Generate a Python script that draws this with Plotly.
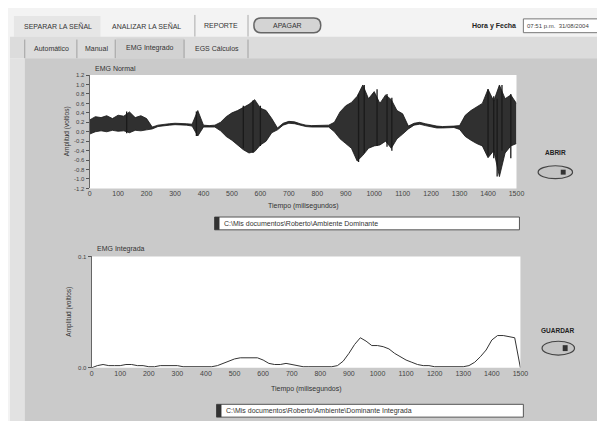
import plotly.graph_objects as go

# ---------------- data ----------------
t_ms = [0, 20, 40, 60, 80, 100, 120, 140, 160, 180, 200, 220, 240, 260, 280, 300,
        320, 340, 360, 380, 400, 420, 440, 460, 480, 500, 520, 540, 560, 580, 600,
        620, 640, 660, 680, 700, 720, 740, 760, 780, 800, 820, 840, 860, 880, 900,
        920, 940, 960, 980, 1000, 1020, 1040, 1060, 1080, 1100, 1120, 1140, 1160,
        1180, 1200, 1220, 1240, 1260, 1280, 1300, 1320, 1340, 1360, 1380, 1400,
        1420, 1440, 1460, 1480, 1500]

emg_upper = [0.25, 0.32, 0.30, 0.34, 0.28, 0.35, 0.33, 0.42, 0.30, 0.34, 0.28, 0.10,
             0.14, 0.16, 0.17, 0.18, 0.18, 0.17, 0.16, 0.45, 0.14, 0.13, 0.14, 0.20,
             0.32, 0.40, 0.45, 0.52, 0.58, 0.68, 0.50, 0.45, 0.28, 0.08, 0.18, 0.22,
             0.21, 0.17, 0.14, 0.13, 0.13, 0.13, 0.14, 0.20, 0.42, 0.55, 0.62, 0.75,
             0.99, 0.70, 0.85, 0.60, 0.78, 0.68, 0.45, 0.38, 0.12, 0.18, 0.20, 0.17,
             0.14, 0.12, 0.11, 0.11, 0.12, 0.13, 0.35, 0.45, 0.52, 0.60, 0.90, 0.65,
             0.99, 0.70, 0.78, 0.60]

emg_lower = [-0.05, 0.00, 0.02, 0.00, 0.03, 0.01, 0.02, -0.02, 0.03, 0.02, 0.04, 0.06,
             0.11, 0.13, 0.14, 0.15, 0.15, 0.14, 0.12, -0.09, 0.10, 0.10, 0.10, 0.02,
             -0.10, -0.18, -0.28, -0.38, -0.45, -0.42, -0.28, -0.20, -0.02, 0.04, 0.14,
             0.18, 0.17, 0.14, 0.11, 0.10, 0.10, 0.10, 0.10, 0.00, -0.15, -0.25, -0.35,
             -0.62, -0.50, -0.35, -0.30, -0.28, -0.20, -0.35, -0.15, -0.05, 0.06, 0.14,
             0.16, 0.13, 0.10, 0.08, 0.08, 0.08, 0.09, 0.05, -0.10, -0.18, -0.25, -0.30,
             -0.55, -0.40, -0.95, -0.45, -0.30, -0.25]

# individual tall spikes visible inside the bursts
spike_t = [130, 375, 540, 574, 600, 945, 965, 1010, 1045, 1062, 1400, 1420, 1432, 1449, 1480]
spike_hi = [0.43, 0.43, 0.55, 0.66, 0.55, 0.80, 0.99, 0.90, 0.80, 0.72, 0.90, 0.75, 0.70, 0.99, 0.80]
spike_lo = [-0.03, -0.09, -0.35, -0.45, -0.30, -0.64, -0.45, -0.30, -0.32, -0.40, -0.50, -0.56, -0.95, -0.40, -0.56]

emg_int = [0.000, 0.002, 0.003, 0.002, 0.002, 0.002, 0.003, 0.003, 0.002, 0.002, 0.001,
           0.001, 0.002, 0.002, 0.002, 0.002, 0.001, 0.001, 0.001, 0.001, 0.001, 0.001,
           0.002, 0.004, 0.006, 0.008, 0.009, 0.009, 0.009, 0.009, 0.007, 0.004, 0.003,
           0.003, 0.004, 0.003, 0.002, 0.001, 0.001, 0.001, 0.001, 0.001, 0.001, 0.002,
           0.006, 0.013, 0.021, 0.027, 0.024, 0.020, 0.020, 0.019, 0.017, 0.013, 0.010,
           0.007, 0.005, 0.003, 0.002, 0.002, 0.001, 0.001, 0.001, 0.001, 0.001, 0.001,
           0.002, 0.005, 0.010, 0.016, 0.025, 0.029, 0.029, 0.028, 0.027, 0.000]

x_ticks = [0, 100, 200, 300, 400, 500, 600, 700, 800, 900, 1000, 1100, 1200, 1300, 1400, 1500]
y1_ticks = [-1.2, -1.0, -0.8, -0.6, -0.4, -0.2, 0.0, 0.2, 0.4, 0.6, 0.8, 1.0, 1.2]
y1_labels = ["-1.2", "-1.0", "-0.8", "-0.6", "-0.4", "-0.2", "0.0", "0.2", "0.4", "0.6", "0.8", "1.0", "1.2"]
y2_ticks = [0.0, 0.1]
y2_labels = ["0.0", "0.1"]

# ---------------- figure ----------------
W, H = 605, 421
FONT = "Liberation Sans"


def px(x):
    return x / W


def py(y):
    return 1 - y / H


fig = go.Figure()

fig.add_trace(go.Scatter(x=t_ms, y=emg_lower, mode="lines",
                         line=dict(color="#151515", width=0.8),
                         xaxis="x", yaxis="y", showlegend=False, hoverinfo="skip"))
fig.add_trace(go.Scatter(x=t_ms, y=emg_upper, mode="lines", fill="tonexty",
                         fillcolor="rgba(30,30,30,0.92)",
                         line=dict(color="#151515", width=0.8),
                         xaxis="x", yaxis="y", showlegend=False, hoverinfo="skip"))

sx, sy = [], []
for t, hi, lo in zip(spike_t, spike_hi, spike_lo):
    sx += [t, t, None]
    sy += [lo, hi, None]
fig.add_trace(go.Scatter(x=sx, y=sy, mode="lines", line=dict(color="#1a1a1a", width=1.3),
                         xaxis="x", yaxis="y", showlegend=False, hoverinfo="skip"))

fig.add_trace(go.Scatter(x=t_ms, y=emg_int, mode="lines",
                         line=dict(color="#333333", width=1),
                         xaxis="x2", yaxis="y2", showlegend=False, hoverinfo="skip"))

tickfont = dict(family=FONT, size=7, color="#444444")

fig.update_layout(
    width=W, height=H,
    margin=dict(l=0, r=0, t=0, b=0),
    paper_bgcolor="#f3f3f3",
    plot_bgcolor="rgba(0,0,0,0)",
    showlegend=False,
    xaxis=dict(domain=[px(81), px(515)], range=[0, 1500], anchor="y",
               tickvals=x_ticks, tickfont=tickfont, showgrid=False, zeroline=False,
               ticks="", showline=False),
    yaxis=dict(domain=[py(180), py(65)], range=[-1.2, 1.2], anchor="x",
               tickvals=y1_ticks, ticktext=y1_labels, tickfont=dict(family=FONT, size=6, color="#444444"),
               showgrid=False, zeroline=False, ticks="outside", ticklen=3,
               tickcolor="#555555", showline=True, linecolor="#666666", linewidth=1),
    xaxis2=dict(domain=[px(83), px(519)], range=[0, 1500], anchor="y2",
                tickvals=x_ticks, tickfont=tickfont, showgrid=False, zeroline=False,
                ticks="", showline=False),
    yaxis2=dict(domain=[py(362), py(249)], range=[0, 0.1], anchor="x2",
                tickvals=y2_ticks, ticktext=y2_labels, tickfont=dict(family=FONT, size=6, color="#444444"),
                showgrid=False, zeroline=False, ticks="outside", ticklen=3,
                tickcolor="#555555", showline=True, linecolor="#666666", linewidth=1),
)

shapes = []


def rect(x0, y0, x1, y1, fill, line=None, lw=0, layer="below"):
    shapes.append(dict(type="rect", xref="paper", yref="paper",
                       x0=px(x0), x1=px(x1), y0=py(y1), y1=py(y0),
                       fillcolor=fill, line=dict(color=line or fill, width=lw), layer=layer))


def vline(x, y0, y1, color="#9a9a9a", w=1):
    shapes.append(dict(type="line", xref="paper", yref="paper",
                       x0=px(x), x1=px(x), y0=py(y0), y1=py(y1),
                       line=dict(color=color, width=w), layer="below"))


# top menu strip
rect(4, 5, 92, 26, "#e6e6e6")
vline(188, 4, 26, "#aaaaaa")
vline(242, 4, 26, "#aaaaaa")
# tab row
rect(0, 26, 605, 48, "#dcdcdc")
rect(108, 28, 177, 48, "#d2d2d2")
for xv in [15, 68, 107, 177, 242]:
    vline(xv, 29, 48, "#a0a0a0")
# left light strip + main panel
rect(0, 48, 15, 421, "#e2e2e2")
rect(15, 48, 602, 417, "#cacaca")
rect(0, 417, 605, 419, "#9c9c9c")
# plot areas (white)
rect(81, 65, 515, 180, "#ffffff")
rect(83, 249, 519, 362, "#ffffff")
# file path boxes
rect(208, 209, 518, 222, "#ffffff", "#555555", 1)
rect(208, 209, 213, 222, "#333333")
rect(210, 399, 522, 412, "#ffffff", "#555555", 1)
rect(210, 399, 215, 412, "#333333")
# date box
rect(522, 8, 604, 22, "#ffffff", "#777777", 1)

# APAGAR button (rounded)
shapes.append(dict(type="path", xref="paper", yref="paper", layer="below",
                   path=("M {a},{b} L {c},{b} Q {d},{b} {d},{e} Q {d},{f} {c},{f} "
                         "L {a},{f} Q {g},{f} {g},{e} Q {g},{b} {a},{b} Z").format(
                       a=px(255), c=px(309), d=px(316), g=px(248),
                       b=py(7), f=py(22), e=py(14.5)),
                   fillcolor="#d4d4d4", line=dict(color="#666666", width=1.5)))

# ABRIR / GUARDAR toggle buttons
for (cx0, cy0, cx1, cy1) in [(537, 157, 572, 170), (541, 335, 574, 349)]:
    shapes.append(dict(type="circle", xref="paper", yref="paper", layer="above",
                       x0=px(cx0), x1=px(cx1), y0=py(cy1), y1=py(cy0),
                       fillcolor="#c4c4c4", line=dict(color="#444444", width=1.2)))
    rect(cx1 - 12, cy0 + 4, cx1 - 7, cy1 - 4, "#333333", layer="above")

fig.update_layout(shapes=shapes)

anns = []


def text(x, y, s, size=7, color="#333333", anchor="left", bold=False, angle=0):
    anns.append(dict(xref="paper", yref="paper", x=px(x), y=py(y), text=("<b>%s</b>" % s) if bold else s,
                     showarrow=False, xanchor=anchor, yanchor="middle", textangle=angle,
                     font=dict(family=FONT, size=size, color=color)))


text(49, 15, "SEPARAR LA SEÑAL", 7, "#333333", "center")
text(139, 15, "ANALIZAR LA SEÑAL", 7, "#333333", "center")
text(215, 15, "REPORTE", 7, "#333333", "center")
text(282, 14.5, "APAGAR", 7, "#333333", "center")
text(492, 15, "Hora y Fecha", 7, "#222222", "center", bold=True)
text(524, 15, "07:51 p.m.  31/08/2004", 6, "#444444", "left")

text(42, 38, "Automático", 7, "#333333", "center")
text(88, 38, "Manual", 7, "#333333", "center")
text(142, 38, "EMG Integrado", 7, "#333333", "center")
text(210, 38, "EGS Cálculos", 7, "#333333", "center")

text(84, 58, "EMG Normal", 7, "#333333", "left")
text(86, 241, "EMG Integrada", 7, "#333333", "left")

text(58, 122, "Amplitud (voltios)", 6.5, "#333333", "center", angle=-90)
text(60, 305, "Amplitud (voltios)", 6.5, "#333333", "center", angle=-90)
text(298, 198, "Tiempo (milisegundos)", 7, "#333333", "center")
text(301, 383, "Tiempo (milisegundos)", 7, "#333333", "center")

text(216, 215.5, "C:\\Mis documentos\\Roberto\\Ambiente Dominante", 7, "#333333", "left")
text(218, 405.5, "C:\\Mis documentos\\Roberto\\Ambiente\\Dominante Integrada", 7, "#333333", "left")

text(555, 144, "ABRIR", 6.5, "#222222", "center", bold=True)
text(557, 324, "GUARDAR", 6.5, "#222222", "center", bold=True)

fig.update_layout(annotations=anns)

fig.write_html("out.html")
